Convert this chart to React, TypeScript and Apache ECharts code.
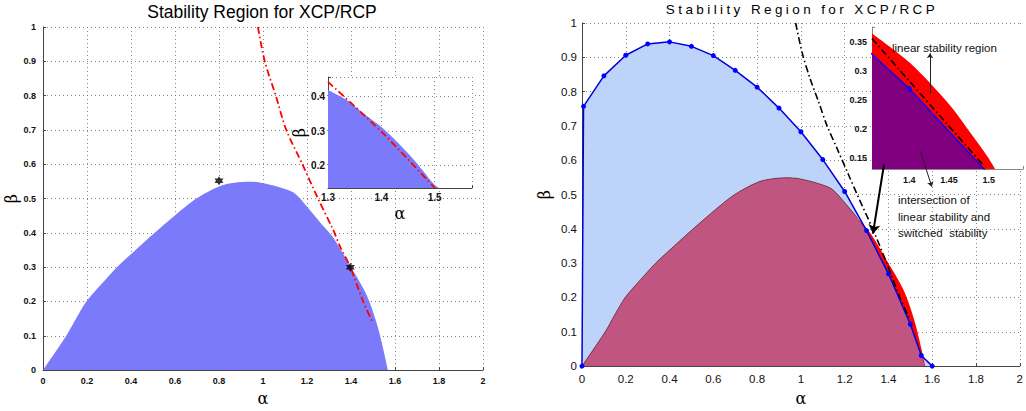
import React, { useEffect, useRef } from 'react';
import * as echarts from 'echarts';

// ---------- data ----------
// linear stability region boundary (alpha, beta)
const linearRegion: [number, number][] = [
  [0, 0], [0.106, 0.1], [0.151, 0.151], [0.197, 0.2], [0.265, 0.25], [0.336, 0.3],
  [0.421, 0.35], [0.508, 0.4], [0.602, 0.452], [0.697, 0.5], [0.803, 0.536],
  [0.87, 0.546], [0.94, 0.549], [0.985, 0.547], [1.06, 0.536], [1.137, 0.518],
  [1.182, 0.49], [1.258, 0.432], [1.318, 0.387], [1.394, 0.306], [1.47, 0.22],
  [1.523, 0.123], [1.568, 0],
];
// red dash-dot curve in the left chart
const leftDashDot: [number, number][] = [
  [0.977, 1.0], [1.008, 0.9], [1.058, 0.8], [1.106, 0.7], [1.179, 0.6], [1.25, 0.5],
  [1.318, 0.41], [1.349, 0.362], [1.397, 0.3], [1.455, 0.2], [1.5, 0.138],
];
const leftStars: [number, number][] = [[0.8, 0.552], [1.397, 0.3]];
// left inset
const leftInsetRegion: [number, number][] = [
  [1.3, 0.419], [1.335, 0.39], [1.366, 0.352], [1.403, 0.308], [1.441, 0.25],
  [1.472, 0.197], [1.497, 0.149], [1.508, 0.135],
];
const leftInsetDash: [number, number][] = [[1.3, 0.443], [1.403, 0.294], [1.5, 0.135]];

// switched stability boundary (blue polyline with markers)
const switchedPolyline: [number, number][] = [
  [0, 0], [0.007, 0.757], [0.1, 0.846], [0.2, 0.906], [0.3, 0.939], [0.4, 0.945],
  [0.5, 0.932], [0.6, 0.905], [0.7, 0.862], [0.8, 0.813], [0.9, 0.752], [1.0, 0.683],
  [1.1, 0.602], [1.2, 0.509], [1.3, 0.395], [1.4, 0.269], [1.5, 0.122], [1.55, 0.031],
  [1.6, 0],
];
// intersection of linear and switched stability (mauve region)
const intersectionRegion: [number, number][] = [
  [0, 0], [0.106, 0.1], [0.151, 0.151], [0.197, 0.2], [0.265, 0.25], [0.336, 0.3],
  [0.421, 0.35], [0.508, 0.4], [0.602, 0.452], [0.697, 0.5], [0.803, 0.536],
  [0.87, 0.546], [0.94, 0.549], [0.985, 0.547], [1.06, 0.536], [1.137, 0.518],
  [1.182, 0.49], [1.258, 0.432], [1.3, 0.393], [1.4, 0.267], [1.5, 0.12],
  [1.55, 0.03], [1.566, 0],
];
// black dash-dot curve in the right chart
const rightDashDot: [number, number][] = [
  [0.976, 1.0], [1.006, 0.913], [1.043, 0.836], [1.081, 0.77], [1.118, 0.703],
  [1.164, 0.636], [1.216, 0.56], [1.257, 0.5], [1.329, 0.398], [1.392, 0.3],
  [1.452, 0.2], [1.494, 0.14],
];
// right inset
const rightInsetLinear: [number, number][] = [
  [1.353, 0.364], [1.401, 0.313], [1.452, 0.239], [1.477, 0.193], [1.498, 0.153],
  [1.508, 0.131],
];
const rightInsetDash: [number, number][] = [[1.353, 0.355], [1.494, 0.136]];

// annotation arrows (data coordinates)
const thickArrow: [number, number][] = [[1.38, 0.589], [1.329, 0.386]];
const thinArrowDown: [number, number][] = [[1.545, 0.628], [1.598, 0.523]];
const thinArrowUp: [number, number][] = [[1.426, 0.261], [1.426, 0.33]];

const titleText = 'Stability Region for XCP/RCP';
const annotationTop = 'linear stability region';
const annotationLines = ['intersection of', 'linear stability and', 'switched  stability'];

// ---------- styles ----------
const SANS = '"Liberation Sans", Arial, sans-serif';
const GREEK = '"DejaVu Serif", serif';
const BLUE_FILL = '#7a7afa';
const LIGHT_BLUE = '#bed3fa';
const MAUVE = '#bf5580';
const RED = '#ff0000';
const PURPLE = '#800080';
const STAR = 'path://M0,-10L2.9,-5L8.7,-5L5.8,0L8.7,5L2.9,5L0,10L-2.9,5L-8.7,5L-5.8,0L-8.7,-5L-2.9,-5Z';

const dotted = { type: [1, 3] as any, color: '#666', width: 0.8 };

function stepFormatter(step: number) {
  return (v: number) => {
    const k = v / step;
    return Math.abs(k - Math.round(k)) < 1e-6 ? String(+v.toFixed(3)) : '';
  };
}

function axis(opts: any) {
  const {
    gridIndex, min, max, step, fixedInterval, labelSize, labelBold, labelMargin,
    split, name, nameGap, nameRotate, lineColor, z,
  } = opts;
  const a: any = {
    type: 'value',
    gridIndex,
    min,
    max,
    axisLine: { show: true, onZero: false, lineStyle: { color: lineColor || '#444', width: 1 } },
    axisTick: { show: true, inside: true, length: 3, lineStyle: { color: lineColor || '#444' } },
    axisLabel: {
      fontSize: labelSize,
      fontWeight: labelBold ? 'bold' : 'normal',
      color: '#111',
      margin: labelMargin,
      fontFamily: SANS,
      formatter: stepFormatter(step),
      showMinLabel: true,
      showMaxLabel: true,
    },
    splitLine: { show: split, lineStyle: dotted },
    z: z || 0,
  };
  if (fixedInterval) a.interval = step;
  else { a.minInterval = step; a.maxInterval = step; }
  if (name) {
    a.name = name;
    a.nameLocation = 'middle';
    a.nameGap = nameGap;
    if (nameRotate != null) a.nameRotate = nameRotate;
    a.nameTextStyle = { fontSize: 16, fontFamily: GREEK, color: '#000' };
  }
  return a;
}

function area(data: any, color: string, xi: number, z: number, smooth: number | boolean = 0.3) {
  return {
    type: 'line', xAxisIndex: xi, yAxisIndex: xi, data, symbol: 'none',
    smooth,
    lineStyle: { width: 0 }, areaStyle: { color, opacity: 1 }, z, silent: true,
  };
}
function dashLine(data: any, color: string, xi: number, z: number, width: number) {
  return {
    type: 'line', xAxisIndex: xi, yAxisIndex: xi, data, symbol: 'none',
    smooth: 0.3,
    lineStyle: { color, width, type: [7, 3, 1.5, 3] }, z, silent: true,
  };
}
function arrow(coords: any, xi: number, width: number, color: string, size: number) {
  return {
    type: 'lines', coordinateSystem: 'cartesian2d', xAxisIndex: xi, yAxisIndex: xi,
    data: [{ coords }], symbol: ['none', 'arrow'], symbolSize: size,
    lineStyle: { color, width, opacity: 1 }, z: 10, silent: true,
  };
}

export default function App() {
  const ref = useRef<HTMLDivElement>(null);
  useEffect(() => {
    if (!ref.current) return;
    const chart = echarts.init(ref.current, undefined, { renderer: 'svg' });
    const option: any = {
      animation: false,
      backgroundColor: '#fff',
      grid: [
        { left: 43, top: 27, width: 440, height: 346 },
        { left: 328, top: 77, width: 144, height: 111, show: true, backgroundColor: '#fff', borderWidth: 0, z: 3 },
        { left: 582, top: 23, width: 444, height: 350 },
        { left: 872, top: 27, width: 151, height: 142, show: true, backgroundColor: '#fff', borderWidth: 0, z: 3 },
      ],
      xAxis: [
        axis({ gridIndex: 0, min: 0, max: 2, step: 0.2, fixedInterval: true, labelSize: 9, labelBold: true, labelMargin: 6, split: true, name: 'α', nameGap: 17 }),
        axis({ gridIndex: 1, min: 1.3, max: 1.57, step: 0.1, labelSize: 10, labelBold: true, labelMargin: 4, split: true, name: 'α', nameGap: 17, z: 4 }),
        axis({ gridIndex: 2, min: 0, max: 2, step: 0.2, fixedInterval: true, labelSize: 11.5, labelBold: false, labelMargin: 7, split: true, name: 'α', nameGap: 18 }),
        axis({ gridIndex: 3, min: 1.353, max: 1.543, step: 0.05, labelSize: 9, labelBold: true, labelMargin: 6, split: false, lineColor: '#888', z: 4 }),
      ],
      yAxis: [
        axis({ gridIndex: 0, min: 0, max: 1, step: 0.1, fixedInterval: true, labelSize: 9, labelBold: true, labelMargin: 7, split: true, name: 'β', nameGap: 22, nameRotate: 90 }),
        axis({ gridIndex: 1, min: 0.135, max: 0.457, step: 0.1, labelSize: 10, labelBold: true, labelMargin: 3, split: true, name: 'β', nameGap: 17, nameRotate: 90, z: 4 }),
        axis({ gridIndex: 2, min: 0, max: 1, step: 0.1, fixedInterval: true, labelSize: 11.5, labelBold: false, labelMargin: 5, split: true, name: 'β', nameGap: 30, nameRotate: 90 }),
        axis({ gridIndex: 3, min: 0.131, max: 0.375, step: 0.05, labelSize: 9, labelBold: true, labelMargin: 5, split: false, lineColor: '#888', z: 4 }),
      ],
      series: [
        // left main
        area(linearRegion, BLUE_FILL, 0, 2),
        dashLine(leftDashDot, RED, 0, 3, 1.8),
        {
          type: 'scatter', xAxisIndex: 0, yAxisIndex: 0, data: leftStars, symbol: STAR,
          symbolSize: 9, itemStyle: { color: '#000' }, z: 4, silent: true,
        },
        // left inset
        area(leftInsetRegion, BLUE_FILL, 1, 5),
        dashLine(leftInsetDash, RED, 1, 6, 1.8),
        // right main
        area(switchedPolyline, LIGHT_BLUE, 2, 2, false),
        area(linearRegion, RED, 2, 2),
        area(intersectionRegion, MAUVE, 2, 2, 0.2),
        {
          type: 'line', xAxisIndex: 2, yAxisIndex: 2,
          data: linearRegion.filter((p) => p[0] <= 1.26), symbol: 'none',
          smooth: 0.3,
          lineStyle: { color: '#3a2a33', width: 0.6 }, z: 2, silent: true,
        },
        dashLine(rightDashDot, '#000', 2, 3, 1.6),
        {
          type: 'line', xAxisIndex: 2, yAxisIndex: 2, data: switchedPolyline,
          symbol: 'circle', symbolSize: 5, showAllSymbol: true,
          lineStyle: { color: '#0000d8', width: 1.5 }, itemStyle: { color: '#0000ff' },
          z: 4, silent: true,
        },
        arrow(thickArrow, 2, 2, '#000', 9),
        arrow(thinArrowDown, 2, 1, '#222', 5),
        // right inset
        area(rightInsetLinear, RED, 3, 5),
        area(switchedPolyline, PURPLE, 3, 5, false),
        {
          type: 'line', xAxisIndex: 3, yAxisIndex: 3, data: switchedPolyline,
          symbol: 'circle', symbolSize: 5, showAllSymbol: true,
          lineStyle: { color: '#0000ff', width: 1.3 }, itemStyle: { color: '#0000ff' },
          z: 6, silent: true,
        },
        dashLine(rightInsetDash, '#000', 3, 7, 1.6),
        arrow(thinArrowUp, 3, 1, '#222', 5),
      ],
      graphic: [
        {
          type: 'text', x: 262, y: 12, z: 100, silent: true,
          style: { text: titleText, fill: '#000', font: `17.5px ${SANS}`, textAlign: 'center', verticalAlign: 'middle' },
        },
        {
          type: 'text', x: 802, y: 9, z: 100, silent: true,
          style: { text: titleText, fill: '#000', font: '13.5px Helvetica, "Liberation Sans", sans-serif', textAlign: 'center', verticalAlign: 'middle' },
        },
        {
          type: 'text', x: 892, y: 48, z: 100, silent: true,
          style: { text: annotationTop, fill: '#111', font: `11.5px ${SANS}`, textAlign: 'left', verticalAlign: 'middle' },
        },
        ...annotationLines.map((t, i) => ({
          type: 'text', x: 898, y: 200 + i * 16.5, z: 100, silent: true,
          style: { text: t, fill: '#111', font: `11.5px ${SANS}`, textAlign: 'left', verticalAlign: 'middle' },
        })),
      ],
    };
    chart.setOption(option);
    return () => chart.dispose();
  }, []);
  return (
    <>
      <style>{'svg text[style*="Helvetica"]{letter-spacing:3.4px;}'}</style>
      <div ref={ref} style={{ position: 'fixed', left: 0, top: 0, width: 1026, height: 411 }} />
    </>
  );
}
